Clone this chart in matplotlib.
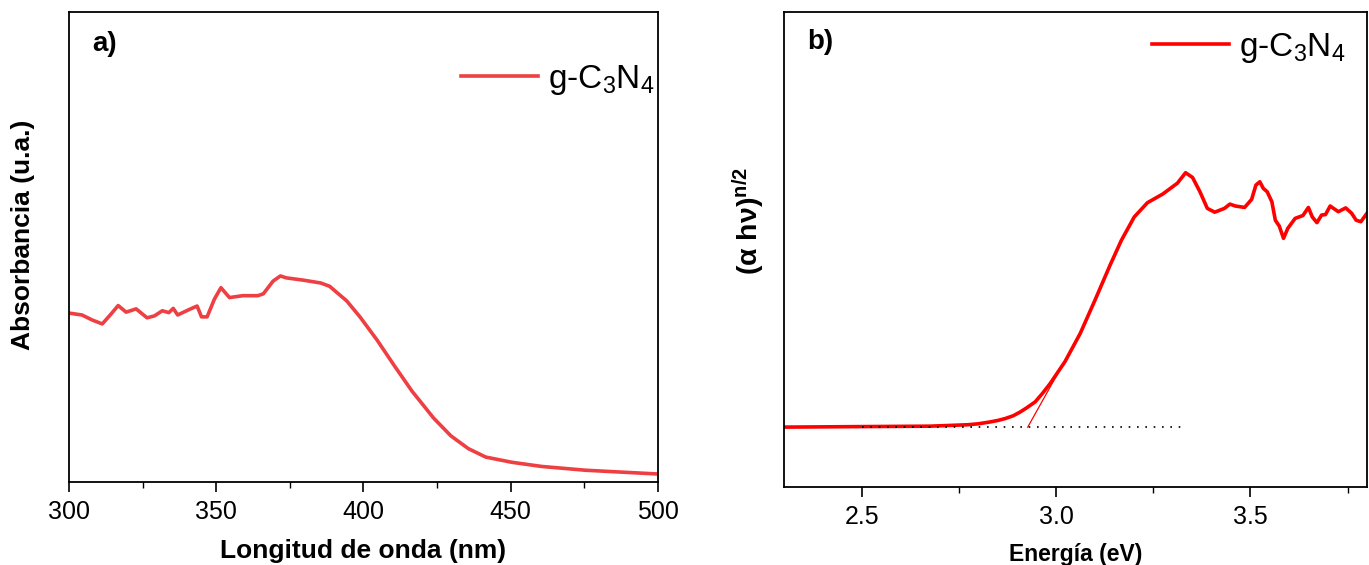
import matplotlib
matplotlib.use("Agg")
import matplotlib.pyplot as plt

plt.rcParams["font.family"] = ["Liberation Sans", "DejaVu Sans"]
plt.rcParams["mathtext.fontset"] = "custom"
plt.rcParams["mathtext.rm"] = "Liberation Sans"
plt.rcParams["mathtext.it"] = "Liberation Sans:italic"
plt.rcParams["mathtext.bf"] = "Liberation Sans:bold"

# Panel a: UV-vis absorbance (arbitrary units)
wl = [300, 304.4, 308, 311.3, 314, 316.7, 319.4, 322.8, 326.5, 329, 331.7, 333.9,
      335.4, 336.9, 341.3, 343.5, 345, 346.9, 349.4, 351.6, 354.5, 359, 364.1, 366,
      369.3, 371.8, 373.7, 379.6, 385.5, 388.5, 394.3, 398.8, 404.7, 410.5, 416.5,
      423.8, 429.7, 435.6, 441.5, 450.3, 460.6, 475.4, 500]
absorb = [0.359, 0.355, 0.344, 0.336, 0.355, 0.375, 0.361, 0.368, 0.349, 0.353,
          0.364, 0.360, 0.369, 0.355, 0.368, 0.374, 0.351, 0.351, 0.389, 0.413,
          0.392, 0.396, 0.396, 0.400, 0.427, 0.438, 0.434, 0.429, 0.423, 0.416,
          0.385, 0.351, 0.301, 0.247, 0.193, 0.136, 0.098, 0.071, 0.053, 0.042,
          0.033, 0.025, 0.017]

# Panel b: Tauc plot
energy = [2.30, 2.483, 2.676, 2.773, 2.80, 2.831, 2.85, 2.869, 2.89, 2.908, 2.925,
          2.946, 2.965, 2.985, 3.023, 3.062, 3.100, 3.139, 3.168, 3.201, 3.235, 3.274,
          3.312, 3.333, 3.351, 3.370, 3.389, 3.408, 3.433, 3.447, 3.461, 3.485, 3.503,
          3.514, 3.524, 3.533, 3.543, 3.555, 3.564, 3.574, 3.585, 3.596, 3.615, 3.635,
          3.649, 3.659, 3.671, 3.683, 3.693, 3.705, 3.726, 3.745, 3.760, 3.772, 3.784,
          3.80]
tauc = [0.126, 0.127, 0.128, 0.131, 0.133, 0.137, 0.140, 0.144, 0.150, 0.158, 0.167,
        0.179, 0.197, 0.218, 0.264, 0.323, 0.393, 0.467, 0.519, 0.568, 0.598, 0.616,
        0.639, 0.661, 0.651, 0.621, 0.586, 0.578, 0.586, 0.595, 0.591, 0.588, 0.605,
        0.635, 0.642, 0.628, 0.621, 0.600, 0.561, 0.549, 0.523, 0.544, 0.565, 0.571,
        0.588, 0.568, 0.556, 0.572, 0.573, 0.591, 0.579, 0.587, 0.576, 0.561, 0.558,
        0.576]

# tangent (band gap extrapolation) and baseline
tangent_x = [2.927, 3.07]
tangent_y = [0.126, 0.335]
base_x = [2.5, 3.333]
base_y = [0.126, 0.126]

label = r"g-C$_3$N$_4$"

fig = plt.figure(figsize=(13.69, 5.65), dpi=100)
ax1 = fig.add_axes([0.0504, 0.1469, 0.4302, 0.8327])
ax2 = fig.add_axes([0.5727, 0.138, 0.4259, 0.8416])

# ---- panel a ----
ax1.plot(wl, absorb, color="#EE3F42", lw=2.6, label=label)
ax1.set_xlim(300, 500)
ax1.set_ylim(0, 1)
ax1.set_xticks([300, 350, 400, 450, 500])
ax1.set_xticks([325, 375, 425, 475], minor=True)
ax1.set_yticks([])
ax1.set_xlabel("Longitud de onda (nm)", fontsize=19, fontweight="bold", labelpad=11)
ax1.set_ylabel("Absorbancia (u.a.)", fontsize=19, fontweight="bold")
ax1.yaxis.set_label_coords(-0.058, 0.525)
ax1.text(0.04, 0.93, "a)", transform=ax1.transAxes, fontsize=20,
         fontweight="bold", va="center", ha="left")
ax1.legend(loc="upper right", bbox_to_anchor=(1.045, 0.955), frameon=False,
           fontsize=24, handlelength=2.3, handletextpad=0.3)

# ---- panel b ----
ax2.plot(energy, tauc, color="#FF0000", lw=2.6, label=label)
ax2.plot(tangent_x, tangent_y, color="#FF0000", lw=0.9)
ax2.plot(base_x, base_y, color="black", lw=1.2, linestyle=(0, (1, 4)))
ax2.set_xlim(2.3, 3.8)
ax2.set_ylim(0, 1)
ax2.set_xticks([2.5, 3.0, 3.5])
ax2.set_xticks([2.75, 3.25, 3.75], minor=True)
ax2.set_yticks([])
ax2.set_xlabel("Energía (eV)", fontsize=16.5, fontweight="bold", labelpad=10)
ax2.set_ylabel(r"$\mathbf{(\alpha\ h\nu)^{n/2}}$", fontsize=20.5)
ax2.yaxis.set_label_coords(-0.03, 0.56)
ax2.text(0.04, 0.935, "b)", transform=ax2.transAxes, fontsize=20,
         fontweight="bold", va="center", ha="left")
ax2.legend(loc="upper right", bbox_to_anchor=(1.014, 1.023), frameon=False,
           fontsize=24, handlelength=2.3, handletextpad=0.3)

for ax in (ax1, ax2):
    for s in ax.spines.values():
        s.set_linewidth(1.3)
    ax.tick_params(axis="x", which="major", length=7, width=1.2,
                   labelsize=18, direction="out", pad=6)
    ax.tick_params(axis="x", which="minor", length=4, width=1.0, direction="out")

fig.savefig("out.png", dpi=100, facecolor="white")
